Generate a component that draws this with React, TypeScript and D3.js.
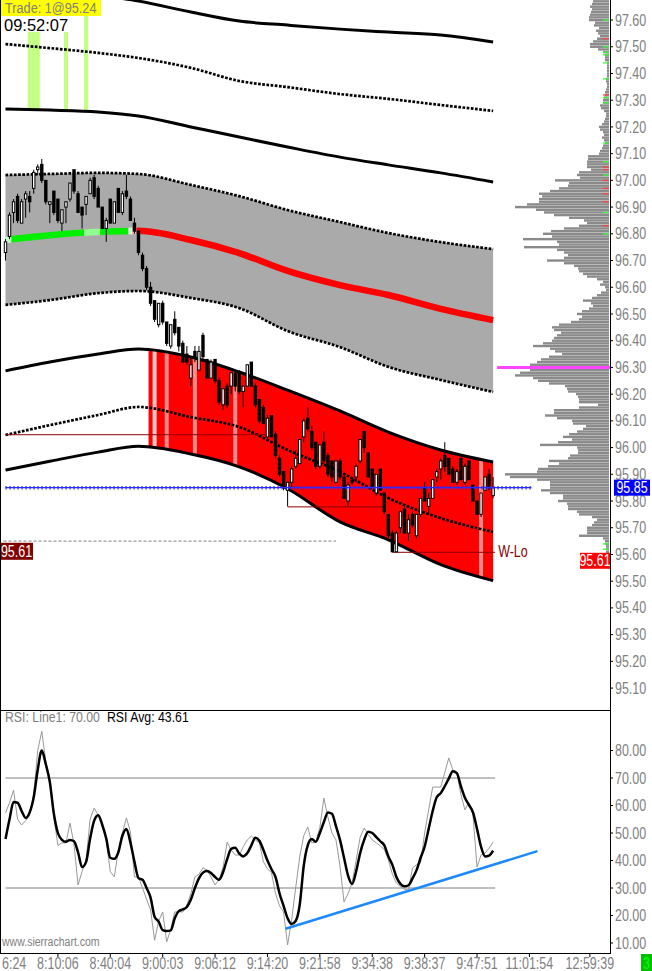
import React from 'react';
import * as d3 from 'd3';

const SANS = "'Liberation Sans', Arial, sans-serif";

// ---- price bars (one per bar index) ----
const opens = [96.73,96.79,96.88,96.94,96.84,96.93,96.94,96.97,97.04,97.06,97.00,96.91,96.96,96.93,96.84,96.90,96.93,97.04,96.95,96.90,96.91,96.95,97.01,96.97,96.90,96.82,96.93,96.84,96.97,96.88,96.96,96.93,96.84,96.81,96.72,96.67,96.60,96.55,96.46,96.54,96.47,96.38,96.48,96.45,96.39,96.35,96.26,96.36,96.29,96.42,96.33,96.26,96.33,96.25,96.16,96.23,96.23,96.28,96.28,96.21,96.23,96.32,96.23,96.18,96.15,96.04,96.12,96.05,95.96,95.91,95.84,95.87,95.93,95.94,96.04,96.11,96.06,96.02,95.93,96.02,95.97,95.95,95.87,95.95,95.89,95.80,95.88,95.89,95.95,96.06,95.98,95.92,95.83,95.92,95.83,95.75,95.68,95.61,95.70,95.77,95.68,95.75,95.67,95.75,95.85,95.78,95.81,95.89,95.92,95.97,95.96,95.92,95.87,95.96,95.87,95.95,95.86,95.80,95.75,95.84,95.90,95.82];
const highs = [96.78,96.88,96.93,96.95,96.93,96.96,96.96,97.04,97.06,97.08,97.00,96.92,96.96,96.93,96.89,96.92,96.99,97.04,96.96,96.90,96.94,97.01,97.02,96.98,96.90,96.86,96.93,96.92,96.97,96.96,97.02,96.94,96.86,96.81,96.73,96.68,96.62,96.55,96.54,96.55,96.47,96.46,96.51,96.45,96.40,96.38,96.34,96.38,96.38,96.43,96.33,96.33,96.33,96.26,96.22,96.24,96.28,96.29,96.29,96.23,96.31,96.32,96.24,96.18,96.16,96.12,96.12,96.06,95.97,95.91,95.87,95.93,95.99,96.03,96.11,96.15,96.08,96.02,96.01,96.06,95.98,95.95,95.95,95.96,95.89,95.87,95.88,95.94,96.03,96.06,95.98,95.92,95.90,95.92,95.83,95.75,95.69,95.69,95.76,95.78,95.75,95.76,95.75,95.81,95.87,95.83,95.88,95.92,95.96,96.02,95.96,95.93,95.92,95.96,95.94,95.95,95.86,95.80,95.83,95.89,95.92,95.89];
const lows = [96.70,96.78,96.84,96.84,96.84,96.86,96.88,96.95,97.02,96.99,96.91,96.84,96.87,96.84,96.81,96.84,96.92,96.95,96.88,96.82,96.87,96.95,96.93,96.90,96.82,96.77,96.84,96.84,96.88,96.87,96.93,96.85,96.80,96.72,96.66,96.59,96.53,96.47,96.45,96.46,96.38,96.37,96.42,96.36,96.32,96.31,96.23,96.32,96.29,96.33,96.26,96.26,96.24,96.16,96.14,96.15,96.20,96.21,96.20,96.15,96.23,96.23,96.15,96.09,96.09,96.03,96.04,95.96,95.89,95.84,95.78,95.85,95.92,95.94,96.02,96.06,95.99,95.92,95.92,95.94,95.89,95.87,95.87,95.88,95.81,95.78,95.86,95.87,95.94,95.98,95.89,95.85,95.82,95.84,95.75,95.66,95.61,95.61,95.68,95.68,95.65,95.70,95.66,95.74,95.80,95.75,95.81,95.87,95.88,95.91,95.90,95.87,95.86,95.88,95.86,95.88,95.80,95.75,95.74,95.84,95.84,95.81];
const closes = [96.77,96.87,96.92,96.85,96.92,96.95,96.92,97.03,97.05,97.00,96.92,96.92,96.88,96.85,96.89,96.92,96.99,96.96,96.88,96.87,96.94,97.00,96.94,96.90,96.82,96.85,96.84,96.92,96.88,96.95,96.94,96.85,96.81,96.73,96.67,96.60,96.54,96.48,96.54,96.47,96.39,96.46,96.43,96.38,96.32,96.32,96.31,96.34,96.36,96.34,96.26,96.32,96.25,96.17,96.22,96.16,96.28,96.23,96.21,96.23,96.31,96.23,96.16,96.10,96.09,96.11,96.04,95.97,95.90,95.85,95.87,95.92,95.96,96.03,96.10,96.07,96.00,95.93,96.01,95.95,95.90,95.89,95.95,95.89,95.81,95.86,95.87,95.93,96.03,96.00,95.89,95.85,95.90,95.84,95.76,95.67,95.61,95.68,95.76,95.68,95.73,95.71,95.75,95.81,95.80,95.81,95.88,95.91,95.95,95.93,95.90,95.87,95.91,95.88,95.93,95.88,95.80,95.75,95.83,95.89,95.85,95.85];

// ---- study bands, sampled at these bar indices ----
const bandIdx = [0, 11, 23, 33, 46, 58, 70, 83, 95, 108, 121];
const band4Up = [97.742, 97.72, 97.694, 97.671, 97.63, 97.596, 97.581, 97.566, 97.555, 97.544, 97.518];
const band3Up = [97.51, 97.495, 97.477, 97.458, 97.421, 97.372, 97.349, 97.323, 97.305, 97.282, 97.26];
const band2Up = [97.267, 97.263, 97.256, 97.241, 97.2, 97.162, 97.125, 97.087, 97.058, 97.028, 96.994];
const band1Up = [97.02, 97.024, 97.028, 97.024, 96.983, 96.941, 96.889, 96.844, 96.803, 96.769, 96.743];
const vwap = [96.777, 96.795, 96.807, 96.811, 96.777, 96.728, 96.661, 96.608, 96.571, 96.519, 96.477];
const band1Dn = [96.534, 96.552, 96.578, 96.586, 96.56, 96.522, 96.436, 96.376, 96.302, 96.253, 96.208];
const band2Dn = [96.287, 96.32, 96.35, 96.369, 96.339, 96.283, 96.215, 96.137, 96.058, 95.991, 95.946];
const band3Dn = [96.047, 96.084, 96.122, 96.152, 96.114, 96.077, 95.991, 95.909, 95.811, 95.736, 95.684];
const band4Dn = [95.916, 95.949, 95.983, 96.005, 95.976, 95.928, 95.846, 95.722, 95.655, 95.562, 95.502];

const greenBars = [6, 7, 8, 15, 20];
const stripeBars = [37, 40, 47, 57, 118];
const redStartBar = 36;
const lastBar = 121;

// ---- horizontal references ----
const swingLinePrices = [96.05, 95.78, 95.61];
const swingLineFrom = [0, 70, 96];
const swingLineTo = [65.5, 94, 121.5];
const lastPrice = 95.85;
const wLo = 95.61;
const dashedPrice = 95.65;
const pocPrice = 96.3;

// ---- volume profile, 0.01 per level from the top ----
const profileTop = 97.68;
const profileVol = [16,16,17,19,17,18,19,20,20,14,15,10,13,11,9,12,16,19,19,11,6,4,4,4,2,2,2,2,2,2,3,3,2,2,3,4,4,5,6,6,9,8,5,3,3,4,5,7,10,9,6,5,7,5,4,6,7,9,10,21,21,22,22,22,18,30,32,29,54,40,41,50,59,70,67,70,70,82,94,73,65,55,40,25,22,30,45,58,66,57,86,52,50,85,52,45,41,45,62,45,35,31,30,26,22,12,6,9,4,3,8,12,17,26,18,16,20,27,32,27,30,38,50,57,55,48,52,55,57,66,76,59,54,47,60,68,72,79,79,79,89,94,76,71,60,44,42,41,33,31,30,30,11,30,55,55,64,52,37,36,23,26,32,40,46,37,51,69,32,31,31,39,41,60,50,61,71,72,104,99,72,59,59,59,68,59,46,46,51,42,41,41,32,30,17,12,15,17,22,22,22,30,6,4,4,3,3,3];
const profileBuyLevels = [8, 18, 20, 21, 24, 30, 37, 39, 54, 61, 66, 80, 88, 204, 206];
const profileSellLevels = [15, 36, 63, 64, 68, 71, 73, 76, 85];

// ---- RSI ----
const rsi = [57.3,61,65.6,55,52.9,54.5,56.5,64,80,87,76,70,56,45.5,46.4,46.4,53.6,46,31.1,36,40.2,55,59.1,56.5,53,47,36,34,43.8,50,55.5,50.4,34,34,30,26,22,11,18,21.3,10.4,15,21.3,21.3,21.3,23.8,28,34,35,37.3,36.5,34,31.1,33,37.6,46.7,43.8,42,42,45,47.5,48.9,47.5,46.4,39.5,37,35.5,28,23.5,21.3,9.3,18.4,30,41.3,49,52.2,46.4,46.7,52,62.7,55.8,50,47.5,38,24.9,28,31.8,40,48.5,51.8,49.5,47.5,46.4,45.3,44,40.2,35,31.8,30.5,29.5,29.3,37.3,38.5,39.1,50,58.4,66.7,66.7,66.7,72,77.3,72.9,71.8,64,58.4,61.1,56.5,37.6,42,42.7,44.5,46.7];
const rsiAvg = [47.8,55,61.3,61,58,55.5,57.5,63,73,80,75,68.5,57,50,47.5,46.8,47.5,47,43,37.6,39.5,48,54.5,56.5,53,48,41,40.6,43,49,51.5,46.5,39.5,33.6,33,30,26.5,19.5,17.8,14.7,14.4,14.6,19,21.6,22.2,23.1,25.8,30,33.5,35.6,36.2,35.5,34,33,35.8,40.5,44.2,44.6,42.5,41.5,42.7,45.5,48.3,47.2,43.8,40,36.8,34,28,23.5,19,16.9,18,23.8,38,45.5,47.8,46.8,50,54,57.5,57,52.5,47.5,41,34.5,31.5,36,42.7,47.5,50.5,50,48.5,47,45.5,41.5,38.4,34,31.5,30.6,31,33.5,36.5,41,45,51.5,58,63,64.5,67,69.8,72.5,71.8,67,62.8,60.2,57.5,51.5,45,41.5,41.8,43.6];
const rsiLevels = [70, 30];
const trendBars = [69.5, 132];
const trendVals = [15.2, 43.4];

// ---- axes ----
const priceTicks = [97.6,97.5,97.4,97.3,97.2,97.1,97.0,96.9,96.8,96.7,96.6,96.5,96.4,96.3,96.2,96.1,96.0,95.9,95.8,95.7,95.6,95.5,95.4,95.3,95.2,95.1];
const rsiTicks = [80, 70, 60, 50, 40, 30, 20, 10];
const timeTickBars = [0, 13, 26, 39, 52, 65, 78, 91, 104, 117, 130, 145];
const timeTickLabels = ['6:24','8:10:06','8:40:04','9:00:03','9:06:12','9:14:20','9:21:58','9:34:38','9:38:37','9:47:51','11:01:54','12:59:39'];

const vwapColors = [
  { from: -1, to: 1.5, color: '#c8ffc8' },
  { from: 1.5, to: 19.5, color: '#00f000' },
  { from: 19.5, to: 23.5, color: '#90ff90' },
  { from: 23.5, to: 30.5, color: '#00f000' },
  { from: 30.5, to: 31.5, color: '#e0ffe0' },
  { from: 31.5, to: 32.5, color: '#ffb0b0' },
  { from: 32.5, to: 123, color: '#ff0000' },
];

// condensed text: Liberation Sans squeezed horizontally (no narrow face installed)
const NText = (props: { x: number; y: number; size?: number; sx?: number; fill: string; anchor?: string; children: React.ReactNode }) => (
  <text
    transform={`translate(${props.x},${props.y}) scale(${props.sx || 0.78},1)`}
    textAnchor={props.anchor || 'start'}
    dominantBaseline="central"
    fontFamily={SANS}
    fontSize={props.size || 16}
    fill={props.fill}
  >
    {props.children}
  </text>
);

export default function App() {
  const AXIS_X = 610;
  const x = d3.scaleLinear().domain([0, 143]).range([5.5, 581.8]);
  const y = d3.scaleLinear().domain([95.0, 97.675]).range([714.8, 0]);
  const ry = d3.scaleLinear().domain([10, 80]).range([943, 750.5]);
  const vol = d3.scaleLinear().domain([0, 100]).range([0, 100]);

  const bandLine = (vals: number[]) =>
    d3.line<number>().x((_, i) => x(bandIdx[i])).y(v => y(v)).curve(d3.curveMonotoneX)(vals) || '';
  const grayArea = d3.area<number>().x((_, i) => x(bandIdx[i])).y0((_, i) => y(band1Dn[i])).y1(v => y(v)).curve(d3.curveMonotoneX)(band1Up) || '';
  const redArea = d3.area<number>().x((_, i) => x(bandIdx[i])).y0((_, i) => y(band4Dn[i])).y1(v => y(v)).curve(d3.curveMonotoneX)(band2Dn) || '';
  const aboveBand2 = d3.area<number>().x((_, i) => x(bandIdx[i])).y0(0).y1(v => y(v)).curve(d3.curveMonotoneX)(band2Up) || '';

  const rsiPath = d3.line<number>().x((_, i) => x(i)).y(v => ry(v))(rsi) || '';
  const rsiAvgPath = d3.line<number>().x((_, i) => x(i)).y(v => ry(v)).curve(d3.curveMonotoneX)(rsiAvg) || '';

  const solid = { fill: 'none', stroke: '#000', strokeWidth: 3 };
  const dotted = { fill: 'none', stroke: '#000', strokeWidth: 2.7, strokeDasharray: '2.7 1.5' };

  return (
    <svg width={652} height={971} style={{ position: 'absolute', left: 0, top: 0, background: '#fff' }}>
      <defs>
        <clipPath id="pricePanel"><rect x={0} y={0} width={AXIS_X} height={710} /></clipPath>
        <clipPath id="studyRange"><rect x={0} y={0} width={x(lastBar + 0.5)} height={710} /></clipPath>
        <clipPath id="redRange"><rect x={x(redStartBar - 0.5)} y={0} width={x(lastBar + 0.5) - x(redStartBar - 0.5)} height={710} /></clipPath>
        <clipPath id="redArea"><path d={redArea} /></clipPath>
        <clipPath id="aboveBand2"><path d={aboveBand2} /></clipPath>
        {vwapColors.map((s, k) => (
          <clipPath key={k} id={`vw${k}`}><rect x={x(s.from)} y={0} width={x(s.to) - x(s.from)} height={710} /></clipPath>
        ))}
      </defs>
      <rect x={0} y={0} width={652} height={971} fill="#fff" />

      <g clipPath="url(#pricePanel)">
        {/* highlight columns above the upper band */}
        <g clipPath="url(#aboveBand2)">
          {greenBars.map(b => (
            <rect key={b} x={x(b) - 2} y={0} width={4} height={710} fill="#c0ff80" />
          ))}
        </g>
        <g clipPath="url(#studyRange)">
          <path d={grayArea} fill="#aaaaaa" />
        </g>
        <g clipPath="url(#redRange)">
          <path d={redArea} fill="#ff0000" />
        </g>
        <g clipPath="url(#redArea)">
          {stripeBars.map((b, k) => (
            <rect key={b} x={x(b) - 2} y={0} width={4} height={710} fill={k === 0 ? '#ffc8c8' : '#ff8a8a'} />
          ))}
        </g>

        <g clipPath="url(#studyRange)">
          <path d={bandLine(band4Up)} {...solid} />
          <path d={bandLine(band3Up)} {...dotted} />
          <path d={bandLine(band2Up)} {...solid} />
          <path d={bandLine(band1Up)} {...dotted} />
          <path d={bandLine(band1Dn)} {...dotted} />
          <path d={bandLine(band2Dn)} {...solid} />
          <path d={bandLine(band3Dn)} {...dotted} />
          <path d={bandLine(band4Dn)} {...solid} />
          {vwapColors.map((s, k) => (
            <path key={k} d={bandLine(vwap)} fill="none" stroke={s.color} strokeWidth={6.5} clipPath={`url(#vw${k})`} />
          ))}
        </g>

        {/* reference lines */}
        <line x1={x(0) - 2} x2={x(82)} y1={y(dashedPrice)} y2={y(dashedPrice)} stroke="#808080" strokeWidth={1} strokeDasharray="3 2" />
        {swingLinePrices.map((p, k) => (
          <line key={k} x1={x(swingLineFrom[k])} x2={x(swingLineTo[k])} y1={y(p) + 0.5} y2={y(p) + 0.5} stroke="#8b0000" strokeWidth={1} />
        ))}

        {/* candles */}
        {opens.map((o, i) => {
          const cx = x(i);
          const c = closes[i];
          const top = y(Math.max(o, c));
          const bot = y(Math.min(o, c));
          const hgt = Math.max(1, bot - top);
          return (
            <g key={i}>
              <line x1={cx} x2={cx} y1={y(highs[i])} y2={y(lows[i])} stroke="#000" strokeWidth={1} />
              {c > o ? (
                <rect x={cx - 1.2} y={top} width={2.4} height={hgt} fill="#fff" stroke="#000" strokeWidth={1} />
              ) : (
                <rect x={cx - 1.7} y={top - 0.5} width={3.4} height={hgt + 1} fill="#000" />
              )}
            </g>
          );
        })}

        {/* volume profile */}
        {profileVol.map((v, k) => {
          const p = profileTop - k * 0.01;
          return <rect key={k} x={AXIS_X - 1 - vol(v)} y={y(p) - 1.2} width={vol(v)} height={2.4} fill="#8a8a8a" />;
        })}
        {profileBuyLevels.map(k => (
          <rect key={`b${k}`} x={AXIS_X - 7} y={y(profileTop - k * 0.01) - 0.6} width={6} height={1.3} fill="#33ff33" />
        ))}
        {profileSellLevels.map(k => (
          <rect key={`s${k}`} x={AXIS_X - 7} y={y(profileTop - k * 0.01) - 0.6} width={6} height={1.3} fill="#ff4040" />
        ))}
        <line x1={x(122)} x2={AXIS_X} y1={y(pocPrice)} y2={y(pocPrice)} stroke="#ff44ff" strokeWidth={3} />

        {/* last price dotted line */}
        <line x1={x(0)} x2={x(130.5)} y1={y(lastPrice)} y2={y(lastPrice)} stroke="#2a2aff" strokeWidth={1.2} />
        <line x1={x(0)} x2={x(130.5)} y1={y(lastPrice)} y2={y(lastPrice)} stroke="#2a2aff" strokeWidth={3.5} strokeDasharray="1.2 2.8" />

        <NText x={x(lastBar) + 5} y={y(wLo)} size={16} fill="#8b0000">W-Lo</NText>
      </g>

      {/* labels on the price panel */}
      <rect x={0} y={y(wLo) - 9} width={33} height={17} fill="#800000" />
      <NText x={16.5} y={y(wLo)} anchor="middle" size={16} fill="#fff">{wLo.toFixed(2)}</NText>
      <rect x={AXIS_X - 30} y={y(wLo) + 1} width={30} height={16} fill="#ff0000" />
      <NText x={AXIS_X - 15} y={y(wLo) + 9} anchor="middle" size={16} fill="#fff">{wLo.toFixed(2)}</NText>

      {/* header */}
      <rect x={0} y={0} width={101} height={16} fill="#ffff00" />
      <NText x={5} y={8} size={15.5} sx={0.82} fill="#808080">Trade: 1@95.24</NText>
      <rect x={0} y={16} width={72} height={16} fill="#fff" />
      <text x={4} y={24.5} dominantBaseline="central" fontFamily={SANS} fontSize={16.5} fill="#000">09:52:07</text>

      {/* price axis */}
      <line x1={AXIS_X + 0.5} x2={AXIS_X + 0.5} y1={0} y2={953} stroke="#000" strokeWidth={1} />
      {priceTicks.map(p => (
        <g key={p}>
          <line x1={AXIS_X} x2={AXIS_X + 3} y1={y(p)} y2={y(p)} stroke="#000" strokeWidth={1} />
          <NText x={AXIS_X + 5} y={y(p)} fill="#808080">{p.toFixed(2)}</NText>
        </g>
      ))}
      <rect x={AXIS_X + 4} y={y(lastPrice) - 8} width={36} height={16} fill="#0000ff" />
      <NText x={AXIS_X + 22} y={y(lastPrice)} anchor="middle" fill="#fff">{lastPrice.toFixed(2)}</NText>

      {/* panel borders */}
      <line x1={0.5} x2={0.5} y1={0} y2={953} stroke="#000" strokeWidth={1} />
      <line x1={0} x2={AXIS_X} y1={710.5} y2={710.5} stroke="#000" strokeWidth={1} />

      {/* RSI panel */}
      <g>
        {rsiLevels.map(l => (
          <line key={l} x1={x(0)} x2={x(lastBar) + 2} y1={ry(l)} y2={ry(l)} stroke="#808080" strokeWidth={1} />
        ))}
        <path d={rsiPath} fill="none" stroke="#999" strokeWidth={1} />
        <path d={rsiAvgPath} fill="none" stroke="#000" strokeWidth={2.5} />
        <line x1={x(trendBars[0])} x2={x(trendBars[1])} y1={ry(trendVals[0])} y2={ry(trendVals[1])} stroke="#1e88ff" strokeWidth={2.5} />
        <NText x={5} y={717} size={15} sx={0.82} fill="#808080">RSI:  Line1: 70.00</NText>
        <NText x={107} y={717} size={15} sx={0.82} fill="#000">RSI Avg: 43.61</NText>
        <NText x={2} y={942} size={13.5} fill="#808080">www.sierrachart.com</NText>
        {rsiTicks.map(t => (
          <g key={t}>
            <line x1={AXIS_X} x2={AXIS_X + 3} y1={ry(t)} y2={ry(t)} stroke="#000" strokeWidth={1} />
            <NText x={AXIS_X + 5} y={ry(t)} fill="#808080">{t.toFixed(2)}</NText>
          </g>
        ))}
      </g>

      {/* time axis */}
      <line x1={0} x2={AXIS_X + 1} y1={953.5} y2={953.5} stroke="#000" strokeWidth={1} />
      {timeTickBars.map((b, k) => (
        <g key={b}>
          {k > 0 && <line x1={x(b)} x2={x(b)} y1={953} y2={957} stroke="#000" strokeWidth={1} />}
          <NText x={k === 0 ? 2 : x(b)} y={963} anchor={k === 0 ? 'start' : 'middle'} fill="#808080">{timeTickLabels[k]}</NText>
        </g>
      ))}
      <rect x={641} y={954} width={11} height={17} fill="#00c000" />
      <NText x={646.5} y={963} anchor="middle" fill="#00ff00">3</NText>
    </svg>
  );
}
